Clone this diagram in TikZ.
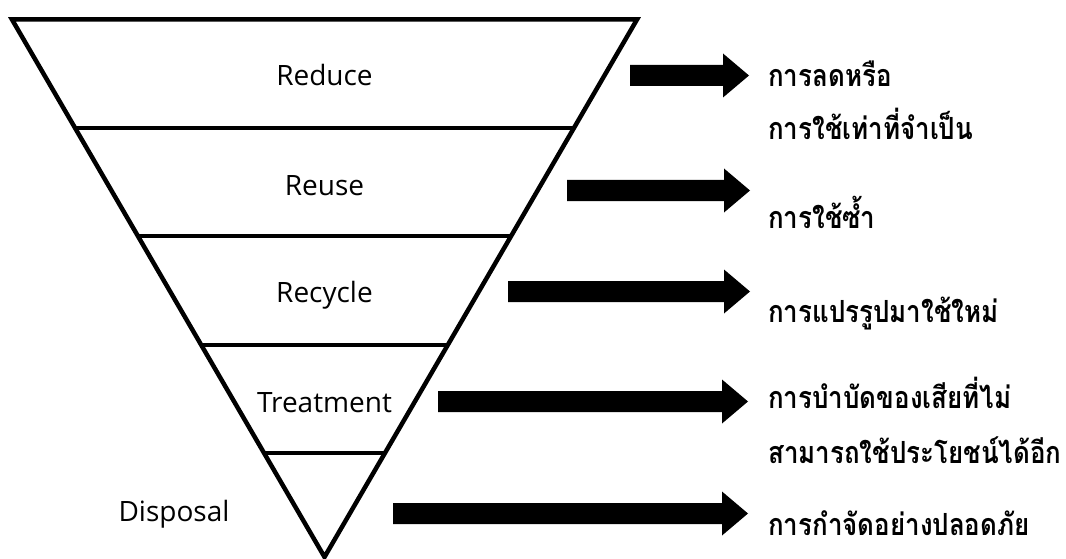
\documentclass[tikz,border=0pt]{standalone}
\usepackage{fontspec}
\setmainfont{Open Sans}
\newfontfamily\thaifont[Script=Thai,FakeStretch=0.85]{Loma}
\usetikzlibrary{calc}
\newcommand\blockarr[2]{\fill[black] ($(#1)+(0,-10.5)$) -- ($(#2)+(-26,-10.5)$) -- ($(#2)+(-26,-22)$) -- (#2) -- ($(#2)+(-26,22)$) -- ($(#2)+(-26,10.5)$) -- ($(#1)+(0,10.5)$) -- cycle;}
\tikzset{
  frame/.style={line width=4.5pt, line join=miter, draw=black},
  layer/.style={line width=4.5pt, draw=black},
  lab/.style={anchor=base, inner sep=0pt, font=\fontsize{28}{34}\selectfont},
  thai/.style={anchor=base west, inner sep=0pt, font=\thaifont\bfseries\fontsize{30.5}{36}\selectfont}
}
\begin{document}
\begin{tikzpicture}[x=1pt,y=-1pt]
\useasboundingbox (0,0) rectangle (1066,559);
\coordinate (tl) at (12,19.5);
\coordinate (tr) at (637,19.5);
\coordinate (ap) at (324.5,557);
\draw[frame] (tl) -- (tr) -- (ap) -- cycle;
\foreach \t in {0.2019,0.4028,0.6056,0.8065}{
  \draw[layer] ($(tl)!\t!(ap)$) -- ($(tr)!\t!(ap)$);
}
\node[lab] (reduce) at (324.5,86) {Reduce};
\node[lab] (reuse) at (324.5,195) {Reuse};
\node[lab] (recycle) at (324.5,302) {Recycle};
\node[lab] (treat) at (324.5,412) {Treatment};
\node[lab] (disp) at (174,521) {Disposal};

\node[thai] (t1) at (768,87) {การลดหรือ};
\node[thai] (t1b) at (768,140) {การใช้เท่าที่จำเป็น};
\node[thai] (t2) at (768,228) {การใช้ซ้ำ};
\node[thai] (t3) at (768,322) {การแปรรูปมาใช้ใหม่};
\node[thai] (t4) at (768,408) {การบำบัดของเสียที่ไม่};
\node[thai] (t4b) at (768,463) {สามารถใช้ประโยชน์ได้อีก};
\node[thai] (t5) at (768,535) {การกำจัดอย่างปลอดภัย};

\coordinate (a1s) at (630,75.5);  \coordinate (a1e) at (749,75.5);
\coordinate (a2s) at (567,190.5); \coordinate (a2e) at (750,190.5);
\coordinate (a3s) at (508,291.5); \coordinate (a3e) at (750,291.5);
\coordinate (a4s) at (438,401.5); \coordinate (a4e) at (748,401.5);
\coordinate (a5s) at (393,513.5); \coordinate (a5e) at (748,513.5);
\blockarr{a1s}{a1e}
\blockarr{a2s}{a2e}
\blockarr{a3s}{a3e}
\blockarr{a4s}{a4e}
\blockarr{a5s}{a5e}
\end{tikzpicture}
\end{document}
